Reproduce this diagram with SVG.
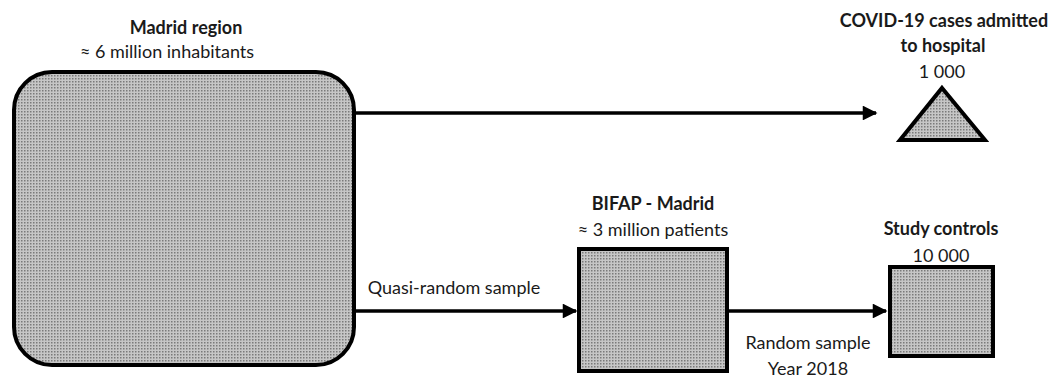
<svg xmlns="http://www.w3.org/2000/svg" width="1052" height="379" viewBox="0 0 1052 379">
  <style>
    .lbl { font-family: Lato, "Open Sans", "Liberation Sans", sans-serif; font-size: 18px; fill: #1a1a1a; text-anchor: middle; }
    .b { font-weight: bold; }
    .shape { fill: url(#dots); stroke: #000; stroke-width: 4; }
    .conn { stroke: #000; stroke-width: 3.5; fill: none; marker-end: url(#head); }
  </style>
  <defs>
    <!-- fine dot screen used for all population boxes -->
    <pattern id="dots" width="3" height="3" patternUnits="userSpaceOnUse">
      <rect width="3" height="3" fill="#c6c6c6"/>
      <rect width="1.5" height="1.5" fill="#7a7a7a"/>
    </pattern>
    <marker id="head" viewBox="0 0 10 10" refX="9" refY="5" markerWidth="4.4" markerHeight="4.2" orient="auto" markerUnits="strokeWidth">
      <path d="M0,0 L10,5 L0,10 Z" fill="#000"/>
    </marker>
  </defs>

  <g id="connectors">
    <line class="conn" x1="355" y1="113" x2="876" y2="113"/>
    <line class="conn" x1="355" y1="311" x2="576" y2="311"/>
    <line class="conn" x1="729" y1="311" x2="886" y2="311"/>
    <text class="lbl" x="454" y="294">Quasi-random sample</text>
    <text class="lbl" x="808" y="349">Random sample</text>
    <text class="lbl" x="808" y="375">Year 2018</text>
  </g>

  <g id="madrid-region">
    <rect class="shape" x="14" y="72" width="340" height="293" rx="38" ry="38"/>
    <text class="lbl b" x="186" y="34">Madrid region</text>
    <text class="lbl" x="167" y="58">≈ 6 million inhabitants</text>
  </g>

  <g id="covid-cases">
    <polygon class="shape" points="942,88 985,140 900,140" stroke-linejoin="miter"/>
    <text class="lbl b" x="944" y="27">COVID-19 cases admitted</text>
    <text class="lbl b" x="943" y="52">to hospital</text>
    <text class="lbl" x="942" y="78">1 000</text>
  </g>

  <g id="bifap-madrid">
    <rect class="shape" x="579" y="249" width="148" height="122"/>
    <text class="lbl b" x="653" y="210">BIFAP - Madrid</text>
    <text class="lbl" x="653" y="236">≈ 3 million patients</text>
  </g>

  <g id="study-controls">
    <rect class="shape" x="890" y="267" width="103" height="89"/>
    <text class="lbl b" x="941" y="235">Study controls</text>
    <text class="lbl" x="941" y="262">10 000</text>
  </g>
</svg>
